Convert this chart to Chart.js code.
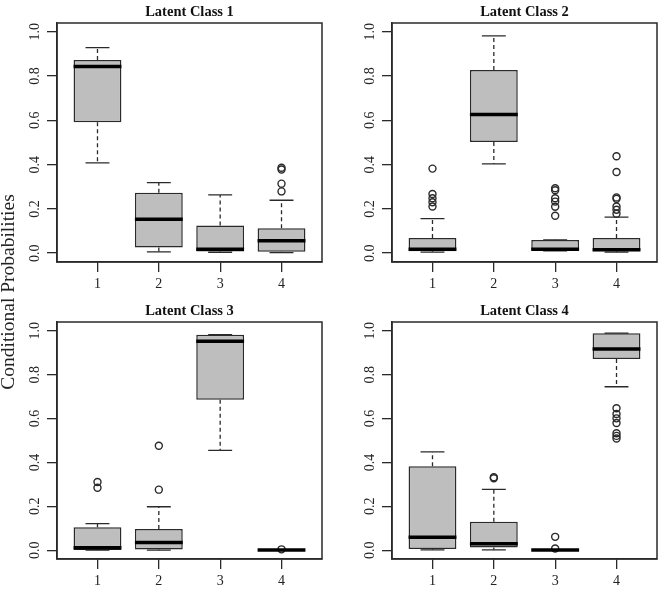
<!DOCTYPE html>
<html>
<head>
<meta charset="utf-8">
<script src="https://cdn.jsdelivr.net/npm/chart.js@4.4.1/dist/chart.umd.min.js"></script>
<style>
  html, body { margin: 0; padding: 0; background: #fff; }
  body { width: 663px; height: 599px; position: relative; overflow: hidden; }
  .panel { position: absolute; }
  #ylab {
    position: absolute; left: -111px; top: 280px; width: 240px; height: 24px;
    line-height: 24px; text-align: center; white-space: nowrap;
    transform: rotate(-90deg);
    font: 19.5px "Liberation Serif", "Times New Roman", serif; color: #222;
  }
</style>
</head>
<body>
<canvas id="c1" class="panel" width="331" height="299" style="left:0;top:0"></canvas>
<canvas id="c2" class="panel" width="328" height="299" style="left:335px;top:0"></canvas>
<canvas id="c3" class="panel" width="331" height="300" style="left:0;top:299px"></canvas>
<canvas id="c4" class="panel" width="328" height="300" style="left:335px;top:299px"></canvas>
<div id="ylab">Conditional Probabilities</div>

<script>
const categories = ['1', '2', '3', '4'];
const yTicks = [0, 0.2, 0.4, 0.6, 0.8, 1.0];

// Latent Class 1
const low1 = [0.408, 0.006, 0.004, 0.002];
const q1_1 = [0.592, 0.026, 0.008, 0.006];
const med1 = [0.843, 0.153, 0.018, 0.056];
const q3_1 = [0.873, 0.273, 0.125, 0.112];
const high1 = [0.929, 0.319, 0.263, 0.239];
const out1 = [[], [], [], [0.279, 0.314, 0.378, 0.386]];

// Latent Class 2
const low2 = [0.005, 0.403, 0.010, 0.005];
const q1_2 = [0.009, 0.502, 0.012, 0.009];
const med2 = [0.018, 0.627, 0.018, 0.015];
const q3_2 = [0.069, 0.828, 0.059, 0.069];
const high2 = [0.156, 0.982, 0.060, 0.163];
const out2 = [[0.211, 0.230, 0.248, 0.267, 0.382], [], [0.169, 0.210, 0.233, 0.248, 0.284, 0.293], [0.178, 0.196, 0.211, 0.246, 0.252, 0.367, 0.438]];

// Latent Class 3
const low3 = [0.0, 0.0, 0.455, 0.0];
const q1_3 = [0.001, 0.003, 0.686, 0.0];
const med3 = [0.011, 0.035, 0.952, 0.001];
const q3_3 = [0.105, 0.097, 0.982, 0.003];
const high3 = [0.121, 0.198, 0.982, 0.003];
const out3 = [[0.285, 0.311], [0.276, 0.476], [], [0.004]];

// Latent Class 4
const low4 = [0.002, 0.002, 0.0, 0.745];
const q1_4 = [0.006, 0.012, 0.0, 0.871];
const med4 = [0.059, 0.030, 0.001, 0.917];
const q3_4 = [0.383, 0.130, 0.003, 0.989];
const high4 = [0.448, 0.277, 0.003, 0.989];
const out4 = [[], [0.328, 0.333], [0.008, 0.061], [0.509, 0.521, 0.533, 0.580, 0.601, 0.621, 0.647]];

const INK = '#2a2a2a';
const BOX_FILL = '#bebebe';
const FONT = '"Liberation Serif", "Times New Roman", serif';

// whiskers, staples and medians, drawn through the chart's own scales
function boxLines(low, med, high, q1, q3) {
  return {
    id: 'boxLines',
    afterDatasetDraw(chart, args) {
      if (args.index !== 0) return;
      const { ctx, scales: { x, y } } = chart;
      const bars = chart.getDatasetMeta(0).data;
      ctx.save();
      ctx.lineCap = 'butt';
      bars.forEach((bar, i) => {
        const cx = x.getPixelForValue(i + 1);
        const half = bar.width / 2;
        const staple = half / 2;
        ctx.strokeStyle = INK;
        ctx.lineWidth = 1.3;
        ctx.setLineDash([4, 3]);
        ctx.beginPath();
        ctx.moveTo(cx, y.getPixelForValue(q3[i]));
        ctx.lineTo(cx, y.getPixelForValue(high[i]));
        ctx.moveTo(cx, y.getPixelForValue(q1[i]));
        ctx.lineTo(cx, y.getPixelForValue(low[i]));
        ctx.stroke();
        ctx.setLineDash([]);
        ctx.beginPath();
        ctx.moveTo(cx - staple, y.getPixelForValue(high[i]));
        ctx.lineTo(cx + staple, y.getPixelForValue(high[i]));
        ctx.moveTo(cx - staple, y.getPixelForValue(low[i]));
        ctx.lineTo(cx + staple, y.getPixelForValue(low[i]));
        ctx.stroke();
        ctx.strokeStyle = '#000';
        ctx.lineWidth = 3.5;
        ctx.beginPath();
        ctx.moveTo(cx - half, y.getPixelForValue(med[i]));
        ctx.lineTo(cx + half, y.getPixelForValue(med[i]));
        ctx.stroke();
      });
      ctx.restore();
    },
    afterDraw(chart) {
      const { ctx, chartArea: a } = chart;
      ctx.save();
      ctx.strokeStyle = INK;
      ctx.lineWidth = 1.5;
      ctx.strokeRect(a.left, a.top, a.width, a.height);
      ctx.restore();
    }
  };
}

function boxChart(id, title, low, q1, med, q3, high, out, padRight, axisH) {
  const boxes = categories.map((c, i) => ({ x: i + 1, y: [q1[i], q3[i]] }));
  const points = [];
  out.forEach((list, i) => list.forEach(v => points.push({ x: i + 1, y: v })));

  return new Chart(document.getElementById(id), {
    type: 'bar',
    data: {
      datasets: [
        {
          type: 'bar', data: boxes,
          backgroundColor: BOX_FILL, borderColor: INK, borderWidth: 1.5,
          borderSkipped: false, barPercentage: 1, categoryPercentage: 0.78
        },
        {
          type: 'scatter', data: points,
          pointStyle: 'circle', pointRadius: 3.5, pointBorderWidth: 1.4,
          borderColor: INK, backgroundColor: 'rgba(0,0,0,0)'
        }
      ]
    },
    options: {
      responsive: false,
      animation: false,
      devicePixelRatio: 1,
      layout: { padding: { left: 0, right: padRight, top: 0, bottom: 0 } },
      plugins: {
        legend: { display: false },
        tooltip: { enabled: false },
        title: {
          display: true, text: title, fullSize: false, color: '#111',
          font: { family: FONT, size: 14.5, weight: 'bold', lineHeight: 1.2 },
          padding: { top: 4, bottom: 1.6 }
        }
      },
      scales: {
        x: {
          type: 'linear', min: 0.34, max: 4.66, offset: false,
          afterBuildTicks: s => { s.ticks = categories.map((c, i) => ({ value: i + 1 })); },
          afterFit: s => { s.height = axisH; },
          ticks: {
            callback: v => categories[v - 1], autoSkip: false, maxRotation: 0,
            padding: 4, color: '#222', font: { family: FONT, size: 14 }
          },
          grid: { offset: false, drawOnChartArea: false, tickLength: 10, color: INK, lineWidth: 1.3 },
          border: { display: true, color: INK, width: 1.5 }
        },
        y: {
          min: -0.04, max: 1.04,
          afterBuildTicks: s => { s.ticks = yTicks.map(v => ({ value: v })); },
          afterFit: s => { s.width = 57; },
          ticks: {
            callback: v => v.toFixed(1), minRotation: 90, maxRotation: 90,
            crossAlign: 'center', padding: 3, color: '#222',
            font: { family: FONT, size: 14 }
          },
          grid: { drawOnChartArea: false, tickLength: 10, color: INK, lineWidth: 1.3 },
          border: { display: true, color: INK, width: 1.5 }
        }
      }
    },
    plugins: [boxLines(low, med, high, q1, q3)]
  });
}

boxChart('c1', 'Latent Class 1', low1, q1_1, med1, q3_1, high1, out1, 9, 37);
boxChart('c2', 'Latent Class 2', low2, q1_2, med2, q3_2, high2, out2, 6, 37);
boxChart('c3', 'Latent Class 3', low3, q1_3, med3, q3_3, high3, out3, 9, 40);
boxChart('c4', 'Latent Class 4', low4, q1_4, med4, q3_4, high4, out4, 6, 40);
</script>
</body>
</html>
